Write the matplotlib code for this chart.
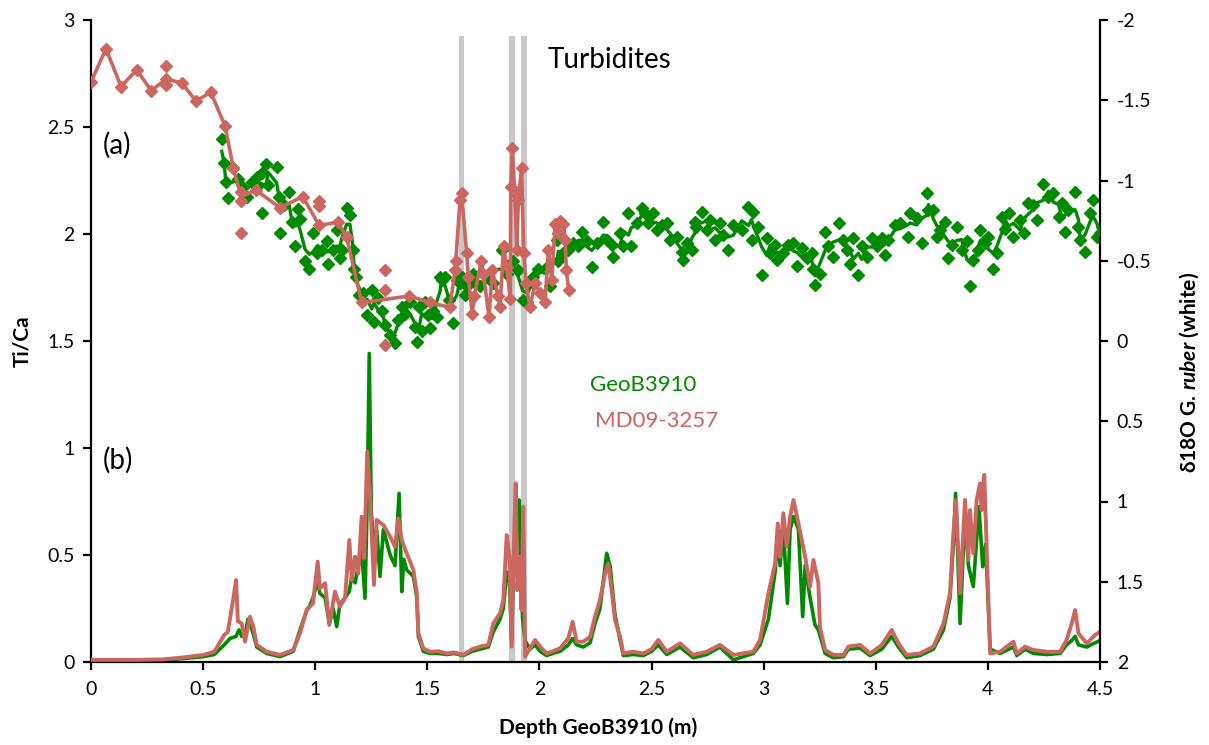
import matplotlib
matplotlib.use("Agg")
import matplotlib.pyplot as plt
import numpy as np
import pandas as pd

# ---------------- data ----------------
# (a) MD09-3257 d18O G. ruber: all measured points
md_d18o_depth = [0.000, 0.067, 0.134, 0.204, 0.268, 0.335, 0.335, 0.335, 0.404, 0.468, 0.534, 0.598,
                 0.635, 0.669, 0.669, 0.669, 0.736, 0.843, 0.944, 1.018, 1.018, 1.018, 1.10, 1.14,
                 1.207, 1.31, 1.31, 1.31, 1.42, 1.51, 1.60, 1.624, 1.63, 1.646, 1.653, 1.675, 1.683,
                 1.70, 1.71, 1.74, 1.75, 1.775, 1.79, 1.815, 1.824, 1.84, 1.854, 1.87, 1.872, 1.879,
                 1.89, 1.899, 1.906, 1.92, 1.93, 1.94, 1.958, 1.98, 2.003, 2.025, 2.04, 2.055, 2.07,
                 2.083, 2.09, 2.107, 2.115, 2.12, 2.13]
md_d18o = [-1.615, -1.82, -1.585, -1.69, -1.56, -1.715, -1.63, -1.595, -1.61, -1.495, -1.55, -1.34,
           -1.076, -0.93, -0.87, -0.67, -0.94, -0.83, -0.90, -0.87, -0.84, -0.72, -0.74, -0.65,
           -0.24, -0.44, -0.32, 0.025, -0.28, -0.24, -0.21, -0.44, -0.50, -0.88, -0.92, -0.55, -0.40,
           -0.17, -0.28, -0.50, -0.42, -0.15, -0.44, -0.28, -0.21, -0.59, -0.46, -0.26, -0.96, -1.20,
           -0.92, -0.57, -0.88, -1.076, -0.55, -0.36, -0.21, -0.36, -0.30, -0.24, -0.57, -0.38, -0.73,
           -0.67, -0.75, -0.73, -0.63, -0.44, -0.32]

# MD09-3257 d18O line (mean curve)
md_line_depth = [0.000, 0.067, 0.134, 0.204, 0.268, 0.335, 0.404, 0.468, 0.534, 0.598, 0.635, 0.669,
                 0.736, 0.843, 0.944, 1.018, 1.10, 1.14, 1.207, 1.42, 1.51, 1.60, 1.624, 1.646, 1.653,
                 1.675, 1.683, 1.70, 1.71, 1.74, 1.75, 1.775, 1.79, 1.815, 1.824, 1.84, 1.854, 1.87,
                 1.872, 1.879, 1.89, 1.899, 1.906, 1.92, 1.93, 1.94, 1.958, 1.98, 2.003, 2.025, 2.04,
                 2.055, 2.07, 2.083, 2.09, 2.107, 2.115, 2.12, 2.13]
md_line_d18o = [-1.615, -1.82, -1.585, -1.69, -1.56, -1.63, -1.61, -1.495, -1.55, -1.34, -1.076, -0.90,
                -0.94, -0.83, -0.90, -0.72, -0.74, -0.65, -0.24, -0.28, -0.24, -0.21, -0.44, -0.88, -0.92,
                -0.55, -0.40, -0.17, -0.28, -0.50, -0.42, -0.15, -0.44, -0.28, -0.21, -0.59, -0.46, -0.26,
                -0.96, -1.20, -0.92, -0.57, -0.88, -1.076, -0.55, -0.36, -0.21, -0.36, -0.30, -0.24, -0.57,
                -0.38, -0.73, -0.67, -0.75, -0.73, -0.63, -0.44, -0.32]

# (a) GeoB3910 d18O G. ruber
geo_d18o_depth = [0.583, 0.593, 0.601, 0.61, 0.635, 0.657, 0.679, 0.694, 0.717, 0.739, 0.761, 0.761,
                  0.78, 0.79, 0.828, 0.84, 0.843, 0.861, 0.885, 0.895, 0.91, 0.925, 0.932, 0.955, 0.974,
                  0.99, 1.01, 1.03, 1.051, 1.058, 1.08, 1.096, 1.11, 1.118, 1.14, 1.155, 1.167, 1.173,
                  1.182, 1.197, 1.215, 1.232, 1.252, 1.262, 1.282, 1.297, 1.311, 1.334, 1.356, 1.37,
                  1.386, 1.40, 1.423, 1.445, 1.453, 1.464, 1.475, 1.49, 1.504, 1.512, 1.527, 1.542,
                  1.557, 1.564, 1.579, 1.598, 1.616, 1.631, 1.646, 1.653, 1.668, 1.676, 1.705, 1.713,
                  1.735, 1.765, 1.794, 1.832, 1.854, 1.884, 1.906, 1.925, 1.946, 1.973, 1.995, 2.032,
                  2.047, 2.077, 2.084, 2.107, 2.129, 2.151, 2.173, 2.189, 2.211, 2.233, 2.256, 2.285,
                  2.30, 2.322, 2.33, 2.36, 2.374, 2.397, 2.41, 2.434, 2.456, 2.471, 2.486, 2.508, 2.523,
                  2.545, 2.568, 2.583, 2.612, 2.634, 2.642, 2.657, 2.679, 2.694, 2.70, 2.724, 2.746,
                  2.761, 2.783, 2.805, 2.82, 2.843, 2.865, 2.902, 2.932, 2.946, 2.954, 2.976, 2.991,
                  3.014, 3.028, 3.051, 3.058, 3.088, 3.11, 3.133, 3.148, 3.17, 3.192, 3.214, 3.222,
                  3.229, 3.251, 3.274, 3.289, 3.311, 3.338, 3.356, 3.37, 3.385, 3.40, 3.422, 3.437,
                  3.46, 3.482, 3.504, 3.527, 3.541, 3.556, 3.586, 3.608, 3.645, 3.653, 3.683, 3.705,
                  3.727, 3.735, 3.757, 3.772, 3.787, 3.809, 3.824, 3.839, 3.861, 3.883, 3.906, 3.92,
                  3.935, 3.957, 3.965, 3.987, 4.002, 4.025, 4.04, 4.062, 4.077, 4.092, 4.114, 4.144,
                  4.159, 4.181, 4.203, 4.218, 4.248, 4.27, 4.292, 4.315, 4.33, 4.344, 4.359, 4.389,
                  4.404, 4.411, 4.433, 4.456, 4.47, 4.486, 4.5]
geo_d18o = [-1.257, -1.107, -0.99, -0.89, -1.076, -1.007, -0.96, -0.90, -0.99, -1.02, -1.045, -0.80,
            -1.10, -0.97, -1.086, -0.90, -0.67, -0.85, -0.93, -0.74, -0.59, -0.82, -0.76, -0.50, -0.45,
            -0.67, -0.546, -0.567, -0.62, -0.48, -0.567, -0.69, -0.515, -0.567, -0.83, -0.785, -0.567, -0.45,
            -0.40, -0.287, -0.297, -0.16, -0.32, -0.12, -0.266, -0.19, -0.10, -0.037, 0.015, -0.13,
            -0.21, -0.17, -0.245, -0.09, 0.004, -0.21, -0.06, -0.245, -0.16, -0.08, -0.19, -0.15,
            -0.40, -0.38, -0.40, -0.255, -0.11, -0.38, -0.36, -0.40, -0.287, -0.34, -0.42, -0.36,
            -0.34, -0.40, -0.36, -0.567, -0.42, -0.50, -0.44, -0.255, -0.245, -0.40, -0.45, -0.463,
            -0.34, -0.63, -0.50, -0.546, -0.567, -0.61, -0.59, -0.68, -0.62, -0.463, -0.61, -0.74,
            -0.63, -0.60, -0.525, -0.67, -0.59, -0.80, -0.59, -0.733, -0.827, -0.796, -0.733, -0.796, -0.69,
            -0.72, -0.733, -0.63, -0.65, -0.556, -0.505, -0.61, -0.567, -0.743, -0.71, -0.806, -0.69,
            -0.754, -0.63, -0.733, -0.66, -0.567, -0.72, -0.69, -0.837, -0.63, -0.806, -0.71, -0.41,
            -0.64, -0.546, -0.60, -0.505, -0.546, -0.60, -0.61, -0.47, -0.578, -0.515, -0.546, -0.45,
            -0.35, -0.42, -0.68, -0.59, -0.525, -0.737, -0.63, -0.567, -0.48, -0.64, -0.41, -0.59,
            -0.525, -0.64, -0.59, -0.64, -0.536, -0.63, -0.72, -0.733, -0.646, -0.796, -0.764, -0.61,
            -0.92, -0.816, -0.816, -0.65, -0.69, -0.743, -0.515, -0.60, -0.71, -0.567, -0.62, -0.34,
            -0.505, -0.567, -0.69, -0.61, -0.65, -0.45, -0.546, -0.775, -0.70, -0.796, -0.65, -0.754,
            -0.67, -0.858, -0.847, -0.754, -0.98, -0.90, -0.92, -0.775, -0.858, -0.68, -0.816, -0.93,
            -0.71, -0.63, -0.556, -0.796, -0.88, -0.65, -0.67]

# (b) Ti/Ca, MD09-3257
md_tica_depth = [0.00, 0.10, 0.20, 0.32, 0.40, 0.50, 0.55, 0.594, 0.61, 0.635, 0.647, 0.655, 0.672,
                 0.687, 0.709, 0.724, 0.739, 0.784, 0.843, 0.902, 0.932, 0.962, 0.99, 1.011, 1.021,
                 1.044, 1.063, 1.088, 1.11, 1.133, 1.152, 1.163, 1.178, 1.192, 1.207, 1.218, 1.232,
                 1.244, 1.262, 1.274, 1.304, 1.334, 1.356, 1.371, 1.386, 1.408, 1.438, 1.453, 1.46,
                 1.482, 1.512, 1.55, 1.587, 1.62, 1.661, 1.70, 1.735, 1.772, 1.794, 1.824, 1.839,
                 1.854, 1.866, 1.876, 1.884, 1.894, 1.901, 1.913, 1.92, 1.928, 1.936, 1.958, 1.98,
                 2.003, 2.032, 2.06, 2.092, 2.129, 2.148, 2.166, 2.196, 2.226, 2.248, 2.27, 2.293,
                 2.307, 2.322, 2.337, 2.36, 2.374, 2.419, 2.463, 2.50, 2.53, 2.568, 2.627, 2.686,
                 2.746, 2.805, 2.865, 2.954, 2.984, 3.021, 3.051, 3.063, 3.073, 3.088, 3.103, 3.118,
                 3.133, 3.155, 3.185, 3.207, 3.222, 3.244, 3.251, 3.274, 3.311, 3.356, 3.378, 3.43,
                 3.475, 3.527, 3.571, 3.601, 3.638, 3.697, 3.757, 3.802, 3.831, 3.846, 3.858, 3.876,
                 3.898, 3.913, 3.92, 3.935, 3.95, 3.965, 3.972, 3.984, 4.002, 4.01, 4.054, 4.114,
                 4.129, 4.166, 4.203, 4.263, 4.322, 4.351, 4.374, 4.389, 4.404, 4.441, 4.478, 4.5]
md_tica = [0.01, 0.01, 0.01, 0.012, 0.02, 0.033, 0.048, 0.126, 0.14, 0.298, 0.383, 0.19, 0.18,
           0.095, 0.212, 0.165, 0.08, 0.048, 0.033, 0.056, 0.134, 0.243, 0.274, 0.469, 0.344,
           0.368, 0.173, 0.329, 0.259, 0.298, 0.57, 0.383, 0.492, 0.414, 0.679, 0.484, 0.983,
           0.788, 0.36, 0.664, 0.64, 0.586, 0.539, 0.671, 0.57, 0.508, 0.43, 0.321, 0.134,
           0.064, 0.048, 0.05, 0.04, 0.045, 0.033, 0.06, 0.072, 0.08, 0.18, 0.227, 0.29,
           0.593, 0.492, 0.072, 0.477, 0.835, 0.336, 0.492, 0.243, 0.726, 0.025, 0.064, 0.103,
           0.072, 0.04, 0.05, 0.064, 0.111, 0.188, 0.095, 0.095, 0.118, 0.212, 0.29, 0.414,
           0.46, 0.336, 0.196, 0.118, 0.04, 0.048, 0.04, 0.06, 0.103, 0.048, 0.087, 0.033,
           0.048, 0.08, 0.033, 0.048, 0.103, 0.321, 0.46, 0.647, 0.492, 0.695, 0.539, 0.679,
           0.757, 0.648, 0.492, 0.352, 0.477, 0.368, 0.165, 0.056, 0.033, 0.033, 0.072, 0.08,
           0.04, 0.08, 0.15, 0.087, 0.033, 0.04, 0.072, 0.18, 0.321, 0.601, 0.757, 0.321,
           0.757, 0.477, 0.71, 0.508, 0.757, 0.835, 0.71, 0.874, 0.29, 0.04, 0.048, 0.095,
           0.04, 0.072, 0.056, 0.048, 0.048, 0.103, 0.18, 0.243, 0.134, 0.087, 0.126, 0.141]

# (b) Ti/Ca, GeoB3910
geo_tica_depth = [0.00, 0.30, 0.40, 0.50, 0.55, 0.594, 0.62, 0.647, 0.66, 0.672, 0.687, 0.70, 0.712,
                  0.724, 0.739, 0.784, 0.843, 0.902, 0.932, 0.962, 0.977, 0.99, 1.011, 1.021, 1.044,
                  1.063, 1.08, 1.096, 1.11, 1.133, 1.152, 1.163, 1.178, 1.192, 1.207, 1.222, 1.232,
                  1.241, 1.25, 1.262, 1.274, 1.289, 1.304, 1.334, 1.356, 1.374, 1.386, 1.395, 1.408,
                  1.438, 1.453, 1.46, 1.482, 1.512, 1.55, 1.587, 1.62, 1.661, 1.70, 1.735, 1.772,
                  1.794, 1.824, 1.839, 1.854, 1.866, 1.876, 1.884, 1.91, 1.916, 1.925, 1.936, 1.958,
                  1.98, 2.003, 2.032, 2.06, 2.092, 2.129, 2.148, 2.166, 2.196, 2.226, 2.248, 2.27,
                  2.30, 2.315, 2.337, 2.36, 2.374, 2.419, 2.463, 2.50, 2.53, 2.568, 2.627, 2.686,
                  2.746, 2.805, 2.865, 2.954, 2.984, 3.021, 3.051, 3.063, 3.073, 3.088, 3.106, 3.118,
                  3.133, 3.155, 3.174, 3.185, 3.207, 3.229, 3.244, 3.274, 3.311, 3.356, 3.378, 3.43,
                  3.475, 3.527, 3.571, 3.601, 3.638, 3.697, 3.757, 3.802, 3.831, 3.846, 3.856, 3.876,
                  3.898, 3.913, 3.935, 3.96, 3.977, 3.99, 4.002, 4.01, 4.054, 4.114, 4.129, 4.166,
                  4.203, 4.263, 4.322, 4.351, 4.374, 4.389, 4.404, 4.441, 4.478, 4.5]
geo_tica = [0.005, 0.005, 0.015, 0.025, 0.035, 0.08, 0.11, 0.12, 0.15, 0.12, 0.13, 0.20, 0.17,
            0.13, 0.07, 0.04, 0.025, 0.05, 0.15, 0.24, 0.266, 0.30, 0.38, 0.32, 0.30,
            0.18, 0.25, 0.165, 0.27, 0.30, 0.33, 0.40, 0.37, 0.45, 0.52, 0.298, 0.75,
            1.442, 0.70, 0.55, 0.62, 0.40, 0.62, 0.50, 0.45, 0.788, 0.329, 0.48, 0.43,
            0.40, 0.30, 0.12, 0.05, 0.04, 0.04, 0.035, 0.04, 0.03, 0.05, 0.06, 0.07,
            0.14, 0.20, 0.25, 0.42, 0.38, 0.10, 0.45, 0.757, 0.40, 0.20, 0.10, 0.06,
            0.08, 0.05, 0.03, 0.04, 0.05, 0.08, 0.11, 0.08, 0.07, 0.09, 0.18, 0.25,
            0.508, 0.45, 0.22, 0.10, 0.03, 0.035, 0.03, 0.05, 0.08, 0.035, 0.07, 0.02,
            0.035, 0.07, 0.01, 0.04, 0.08, 0.20, 0.42, 0.60, 0.45, 0.62, 0.274, 0.62,
            0.68, 0.62, 0.212, 0.45, 0.30, 0.173, 0.15, 0.04, 0.02, 0.025, 0.06, 0.065,
            0.03, 0.06, 0.12, 0.07, 0.02, 0.03, 0.06, 0.15, 0.30, 0.55, 0.788, 0.18,
            0.70, 0.45, 0.352, 0.726, 0.445, 0.55, 0.25, 0.06, 0.04, 0.07, 0.03, 0.06,
            0.04, 0.035, 0.04, 0.08, 0.10, 0.12, 0.08, 0.07, 0.09, 0.10]

# turbidite layers (depth ranges, m)
turbidite_start = [1.64, 1.865, 1.918]
turbidite_end = [1.665, 1.89, 1.945]

x_ticks = [0, 0.5, 1, 1.5, 2, 2.5, 3, 3.5, 4, 4.5]
left_ticks = [0, 0.5, 1, 1.5, 2, 2.5, 3]
right_ticks = [-2, -1.5, -1, -0.5, 0, 0.5, 1, 1.5, 2]

# ---------------- style ----------------
GREEN = "#008a00"
RED = "#cc6660"
GRAY = "#c8c8c8"
FONT = ["Lato", "DejaVu Sans"]
plt.rcParams["font.family"] = FONT
plt.rcParams["mathtext.fontset"] = "custom"
plt.rcParams["mathtext.it"] = "Lato:italic:bold"
plt.rcParams["mathtext.rm"] = "Lato:bold"

fig = plt.figure(figsize=(12.09, 7.45), dpi=100)
ax = fig.add_axes([91 / 1209, 83 / 745, 1009 / 1209, 642 / 745])
ax2 = ax.twinx()

# turbidite bands
for s, e in zip(turbidite_start, turbidite_end):
    ax.axvspan(s, e, ymin=0, ymax=0.975, color=GRAY, lw=0, zorder=0)

# Ti/Ca
ax.plot(geo_tica_depth, geo_tica, color=GREEN, lw=2.6, zorder=2, solid_joinstyle="round")
ax.plot(md_tica_depth, md_tica, color=RED, lw=2.8, zorder=3, solid_joinstyle="round")

# d18O
geo_line = pd.Series(geo_d18o).rolling(3, center=True, min_periods=1).mean()
ax2.plot(geo_d18o_depth, geo_d18o, ls="none", marker="D", ms=6.5, color=GREEN, zorder=2)
ax2.plot(geo_d18o_depth, geo_line, color=GREEN, lw=2.4, zorder=3)
ax2.plot(md_d18o_depth, md_d18o, ls="none", marker="D", ms=6.5, color=RED, zorder=4)
ax2.plot(md_line_depth, md_line_d18o, color=RED, lw=2.6, zorder=5)

# axes
ax.set_xlim(0, 4.5)
ax.set_ylim(0, 3)
ax2.set_ylim(2, -2)
ax.set_xticks(x_ticks)
ax.set_xticklabels([f"{t:g}" for t in x_ticks])
ax.set_yticks(left_ticks)
ax.set_yticklabels([f"{t:g}" for t in left_ticks])
ax2.set_yticks(right_ticks)
ax2.set_yticklabels([f"{t:g}" for t in right_ticks])

for a in (ax, ax2):
    a.spines["top"].set_visible(False)
    for sp in a.spines.values():
        sp.set_linewidth(1.6)
        sp.set_color("black")
    a.tick_params(direction="out", length=6, width=1.6, labelsize=14, colors="black", pad=6)
ax2.spines["left"].set_visible(False)
ax2.spines["bottom"].set_visible(False)
ax.spines["right"].set_visible(False)
ax.tick_params(axis="x", pad=8)

# labels
fig.text(22 / 1209, 1 - 341 / 745, "Ti/Ca", rotation=90, ha="center", va="center",
         fontsize=15, fontweight="bold")
fig.text(1189 / 1209, 1 - 372 / 745, r"δ18O G. $\mathit{ruber}$ (white)", rotation=90,
         ha="center", va="center", fontsize=15, fontweight="bold")
fig.text(598 / 1209, 1 - 728 / 745, "Depth GeoB3910 (m)", ha="center", va="center",
         fontsize=15, fontweight="bold")

ax.text(2.038, 2.813, "Turbidites", fontsize=20, ha="left", va="center")
ax.text(0.054, 2.416, "(a)", fontsize=20, ha="left", va="center")
ax.text(0.054, 0.944, "(b)", fontsize=20, ha="left", va="center")
ax.text(2.226, 1.294, "GeoB3910", fontsize=16, color=GREEN, ha="left", va="center")
ax.text(2.248, 1.126, "MD09-3257", fontsize=16, color=RED, ha="left", va="center")

fig.savefig("out.png", dpi=100)
